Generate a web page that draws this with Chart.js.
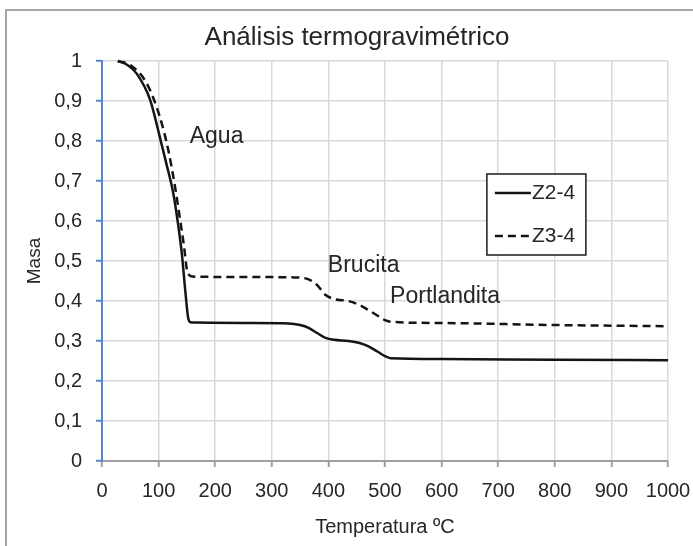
<!DOCTYPE html>
<html>
<head>
<meta charset="utf-8">
<script src="https://cdn.jsdelivr.net/npm/chart.js@4"></script>
<style>
  html, body { margin: 0; padding: 0; background: #fff; }
  #wrap { position: relative; width: 693px; height: 546px; overflow: hidden; }
  #frame { position: absolute; left: 5px; top: 9px; width: 720px; height: 600px;
           border-left: 2px solid #a6a6a6; border-top: 2px solid #a6a6a6; pointer-events: none; }
  canvas { position: absolute; left: 0; top: 0; }
</style>
</head>
<body>
<div id="wrap">
  <canvas id="tga" width="693" height="546"></canvas>
  <div id="frame"></div>
</div>
<script>
'use strict';

// ── DATA ──
const chartTitle = 'Análisis termogravimétrico';
const xTitle = 'Temperatura ºC';
const yTitle = 'Masa';

const xTickLabels = ['0','100','200','300','400','500','600','700','800','900','1000'];
const yTickLabels = ['0','0,1','0,2','0,3','0,4','0,5','0,6','0,7','0,8','0,9','1'];

const z2Label = 'Z2-4';
const z2Temp = [28, 45, 61, 85, 102, 115, 126, 135, 141, 147, 152, 156, 165, 250, 330, 350, 365, 380, 395, 410, 435, 455, 470, 485, 500, 510, 600, 800, 1000];
const z2Mass = [1.0, 0.99, 0.969, 0.903, 0.811, 0.736, 0.669, 0.586, 0.519, 0.428, 0.36, 0.347, 0.346, 0.345, 0.344, 0.34, 0.333, 0.32, 0.308, 0.303, 0.3, 0.295, 0.287, 0.275, 0.262, 0.257, 0.255, 0.253, 0.252];

const z3Label = 'Z3-4';
const z3Temp = [28, 50, 79, 102, 117, 129, 138, 145, 150, 154, 160, 250, 340, 365, 380, 395, 410, 435, 455, 470, 485, 500, 510, 600, 800, 1000];
const z3Mass = [1.0, 0.99, 0.944, 0.861, 0.778, 0.686, 0.603, 0.536, 0.478, 0.465, 0.461, 0.46, 0.459, 0.454, 0.44, 0.415, 0.405, 0.4, 0.39, 0.378, 0.365, 0.352, 0.348, 0.345, 0.34, 0.337];

// annotation labels (anchored in data coords, left edge / vertical middle)
const noteTexts = ['Agua', 'Brucita', 'Portlandita'];
const noteTemp  = [155, 399, 509];
const noteMass  = [0.81, 0.4875, 0.41];

const FONT = "'Liberation Sans', Arial, sans-serif";
const INK = '#262626';

const toPts = (xs, ys) => xs.map((x, i) => ({ x, y: ys[i] }));

// ── TITLE + ANNOTATIONS ──
const notesPlugin = {
  id: 'notes',
  afterDatasetsDraw(chart) {
    const { ctx, scales: { x, y } } = chart;
    ctx.save();
    ctx.fillStyle = INK;
    ctx.textBaseline = 'middle';
    ctx.textAlign = 'center';
    ctx.font = `26px ${FONT}`;
    ctx.fillText(chartTitle, 357, 38);
    ctx.textAlign = 'left';
    ctx.font = `23px ${FONT}`;
    noteTexts.forEach((t, i) => ctx.fillText(t, x.getPixelForValue(noteTemp[i]), y.getPixelForValue(noteMass[i])));
    ctx.restore();
  }
};

// ── LEGEND BOX (inside plot) ──
const boxLegend = {
  id: 'boxLegend',
  afterDraw(chart) {
    const { ctx, chartArea: a } = chart;
    const left = a.left + (a.right - a.left) * 0.680;
    const top = a.top + (a.bottom - a.top) * 0.2825;
    const w = 99, h = 81;
    ctx.save();
    ctx.fillStyle = '#fff';
    ctx.fillRect(left, top, w, h);
    ctx.strokeStyle = '#1a1a1a';
    ctx.lineWidth = 1.5;
    ctx.strokeRect(left, top, w, h);
    ctx.font = `21px ${FONT}`;
    ctx.textBaseline = 'middle';
    chart.data.datasets.forEach((ds, i) => {
      const yy = top + 19 + i * 43;
      ctx.strokeStyle = ds.borderColor;
      ctx.lineWidth = ds.borderWidth;
      ctx.setLineDash(ds.borderDash || []);
      ctx.beginPath();
      ctx.moveTo(left + 8, yy);
      ctx.lineTo(left + 44, yy);
      ctx.stroke();
      ctx.setLineDash([]);
      ctx.fillStyle = INK;
      ctx.fillText(ds.label, left + 45, yy);
    });
    ctx.restore();
  }
};

new Chart(document.getElementById('tga'), {
  type: 'scatter',
  data: {
    datasets: [
      { label: z2Label, data: toPts(z2Temp, z2Mass), showLine: true, borderColor: '#141414', borderWidth: 2.5,
        pointRadius: 0, cubicInterpolationMode: 'monotone', clip: 6 },
      { label: z3Label, data: toPts(z3Temp, z3Mass), showLine: true, borderColor: '#141414', borderWidth: 2.5,
        borderDash: [8, 5], pointRadius: 0, cubicInterpolationMode: 'monotone', clip: 6 },
    ]
  },
  options: {
    responsive: false,
    animation: false,
    layout: { padding: { left: 8, top: 61, right: 25, bottom: 0 } },
    plugins: {
      legend: { display: false },
      tooltip: { enabled: false },
      title: { display: false }
    },
    scales: {
      x: {
        type: 'linear', min: 0, max: 1000,
        afterFit: s => { s.height = 85; s.paddingRight = 0; s.paddingLeft = 0; },
        ticks: { stepSize: 100, color: INK, font: { family: FONT, size: 20 }, padding: 12,
                 callback: (v, i) => xTickLabels[i] },
        grid: { color: c => c.tick && c.tick.value === 0 ? 'rgba(0,0,0,0)' : '#d9d9d9', lineWidth: 1.5,
                tickColor: '#a0a0a0', tickLength: 6, tickWidth: 2 },
        border: { color: '#a0a0a0', width: 2 },
        title: { display: true, text: xTitle, color: INK, font: { family: FONT, size: 20 }, padding: { top: 4, bottom: 7 } }
      },
      y: {
        min: 0, max: 1,
        afterFit: s => { s.width = 94; s.paddingTop = 0; s.paddingBottom = 0; },
        ticks: { stepSize: 0.1, color: INK, font: { family: FONT, size: 20 }, padding: 14,
                 callback: (v, i) => yTickLabels[i] },
        grid: { color: c => c.tick && c.tick.value === 0 ? 'rgba(0,0,0,0)' : '#d9d9d9', lineWidth: 1.5,
                tickColor: '#5585c8', tickLength: 6, tickWidth: 2 },
        border: { color: '#5585c8', width: 2 },
        title: { display: true, text: yTitle, color: INK, font: { family: FONT, size: 19 }, padding: { top: 15, bottom: 4 } }
      }
    }
  },
  plugins: [notesPlugin, boxLegend]
});
</script>
</body>
</html>
